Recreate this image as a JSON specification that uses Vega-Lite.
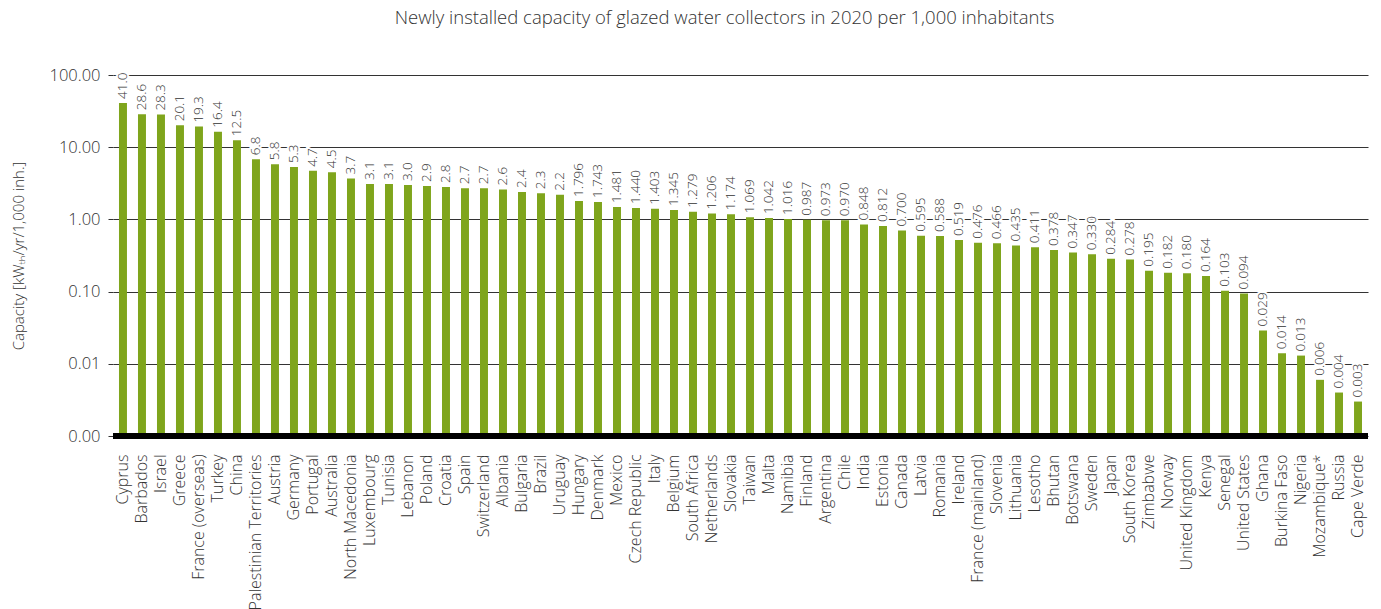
{
  "$schema": "https://vega.github.io/schema/vega-lite/v6.json",
  "width": 1255,
  "height": 361,
  "autosize": "none",
  "padding": {"left": 113, "top": 75, "right": 13, "bottom": 173},
  "background": "white",
  "config": {"font": "Open Sans", "view": {"stroke": null}},
  "title": {"text": "Newly installed capacity of glazed water collectors in 2020 per 1,000 inhabitants", "fontSize": 18.5, "fontWeight": 300, "color": "#333333", "font": "Open Sans", "anchor": "middle", "dx": -16, "offset": 40},
  "data": {"values": [
    {"country": "Cyprus", "value": 41.0, "label": "41.0"},
    {"country": "Barbados", "value": 28.6, "label": "28.6"},
    {"country": "Israel", "value": 28.3, "label": "28.3"},
    {"country": "Greece", "value": 20.1, "label": "20.1"},
    {"country": "France (overseas)", "value": 19.3, "label": "19.3"},
    {"country": "Turkey", "value": 16.4, "label": "16.4"},
    {"country": "China", "value": 12.5, "label": "12.5"},
    {"country": "Palestinian Territories", "value": 6.8, "label": "6.8"},
    {"country": "Austria", "value": 5.8, "label": "5.8"},
    {"country": "Germany", "value": 5.3, "label": "5.3"},
    {"country": "Portugal", "value": 4.7, "label": "4.7"},
    {"country": "Australia", "value": 4.5, "label": "4.5"},
    {"country": "North Macedonia", "value": 3.7, "label": "3.7"},
    {"country": "Luxembourg", "value": 3.1, "label": "3.1"},
    {"country": "Tunisia", "value": 3.1, "label": "3.1"},
    {"country": "Lebanon", "value": 3.0, "label": "3.0"},
    {"country": "Poland", "value": 2.9, "label": "2.9"},
    {"country": "Croatia", "value": 2.8, "label": "2.8"},
    {"country": "Spain", "value": 2.7, "label": "2.7"},
    {"country": "Switzerland", "value": 2.7, "label": "2.7"},
    {"country": "Albania", "value": 2.6, "label": "2.6"},
    {"country": "Bulgaria", "value": 2.4, "label": "2.4"},
    {"country": "Brazil", "value": 2.3, "label": "2.3"},
    {"country": "Uruguay", "value": 2.2, "label": "2.2"},
    {"country": "Hungary", "value": 1.796, "label": "1.796"},
    {"country": "Denmark", "value": 1.743, "label": "1.743"},
    {"country": "Mexico", "value": 1.481, "label": "1.481"},
    {"country": "Czech Republic", "value": 1.44, "label": "1.440"},
    {"country": "Italy", "value": 1.403, "label": "1.403"},
    {"country": "Belgium", "value": 1.345, "label": "1.345"},
    {"country": "South Africa", "value": 1.279, "label": "1.279"},
    {"country": "Netherlands", "value": 1.206, "label": "1.206"},
    {"country": "Slovakia", "value": 1.174, "label": "1.174"},
    {"country": "Taiwan", "value": 1.069, "label": "1.069"},
    {"country": "Malta", "value": 1.042, "label": "1.042"},
    {"country": "Namibia", "value": 1.016, "label": "1.016"},
    {"country": "Finland", "value": 0.987, "label": "0.987"},
    {"country": "Argentina", "value": 0.973, "label": "0.973"},
    {"country": "Chile", "value": 0.97, "label": "0.970"},
    {"country": "India", "value": 0.848, "label": "0.848"},
    {"country": "Estonia", "value": 0.812, "label": "0.812"},
    {"country": "Canada", "value": 0.7, "label": "0.700"},
    {"country": "Latvia", "value": 0.595, "label": "0.595"},
    {"country": "Romania", "value": 0.588, "label": "0.588"},
    {"country": "Ireland", "value": 0.519, "label": "0.519"},
    {"country": "France (mainland)", "value": 0.476, "label": "0.476"},
    {"country": "Slovenia", "value": 0.466, "label": "0.466"},
    {"country": "Lithuania", "value": 0.435, "label": "0.435"},
    {"country": "Lesotho", "value": 0.411, "label": "0.411"},
    {"country": "Bhutan", "value": 0.378, "label": "0.378"},
    {"country": "Botswana", "value": 0.347, "label": "0.347"},
    {"country": "Sweden", "value": 0.33, "label": "0.330"},
    {"country": "Japan", "value": 0.284, "label": "0.284"},
    {"country": "South Korea", "value": 0.278, "label": "0.278"},
    {"country": "Zimbabwe", "value": 0.195, "label": "0.195"},
    {"country": "Norway", "value": 0.182, "label": "0.182"},
    {"country": "United Kingdom", "value": 0.18, "label": "0.180"},
    {"country": "Kenya", "value": 0.164, "label": "0.164"},
    {"country": "Senegal", "value": 0.103, "label": "0.103"},
    {"country": "United States", "value": 0.094, "label": "0.094"},
    {"country": "Ghana", "value": 0.029, "label": "0.029"},
    {"country": "Burkina Faso", "value": 0.014, "label": "0.014"},
    {"country": "Nigeria", "value": 0.013, "label": "0.013"},
    {"country": "Mozambique*", "value": 0.006, "label": "0.006"},
    {"country": "Russia", "value": 0.004, "label": "0.004"},
    {"country": "Cape Verde", "value": 0.003, "label": "0.003"}
  ]},
  "encoding": {
    "x": {"field": "country", "type": "nominal", "sort": null,
      "scale": {"paddingInner": 0.58, "paddingOuter": 0.315},
      "axis": {"title": null, "labelAngle": -90, "labelAlign": "right", "labelBaseline": "middle", "labelPadding": 18, "ticks": false, "domain": false, "labelFontSize": 16, "labelFontWeight": 300, "labelColor": "#333333", "labelFont": "Open Sans"}}
  },
  "layer": [
    {
      "mark": {"type": "bar", "fill": "#7fa51c"},
      "encoding": {
        "y": {"field": "value", "type": "quantitative", "stack": null,
          "scale": {"type": "log", "domain": [0.001, 100], "nice": false},
          "axis": {"title": "Capacity [kWₜₕ/yr/1,000 inh.]", "titleFontSize": 15, "titleFontWeight": 300, "titleColor": "#333333", "titleFont": "Open Sans", "titlePadding": 22,
            "values": [0.001, 0.01, 0.1, 1, 10, 100], "format": ".2f", "labelFontSize": 16.5, "labelFontWeight": 300, "labelColor": "#333333", "labelFont": "Open Sans", "labelPadding": 8,
            "grid": true, "gridColor": "#333333", "gridWidth": 1, "domain": false, "tickSize": 5, "tickColor": "#333333"}},
        "y2": {"datum": 0.001}
      }
    },
    {
      "mark": {"type": "rule", "color": "black", "strokeWidth": 5},
      "encoding": {"y": {"datum": 0.001, "type": "quantitative"}, "x": null}
    },
    {
      "mark": {"type": "text", "angle": 270, "align": "left", "baseline": "middle", "dx": 4, "fontSize": 13.5, "fontWeight": 300, "font": "Open Sans", "stroke": "white", "strokeWidth": 4, "color": "white"},
      "encoding": {"y": {"field": "value", "type": "quantitative"}, "text": {"field": "label"}}
    },
    {
      "mark": {"type": "text", "angle": 270, "align": "left", "baseline": "middle", "dx": 4, "fontSize": 13.5, "fontWeight": 300, "font": "Open Sans", "color": "#333333"},
      "encoding": {"y": {"field": "value", "type": "quantitative"}, "text": {"field": "label"}}
    }
  ]
}
